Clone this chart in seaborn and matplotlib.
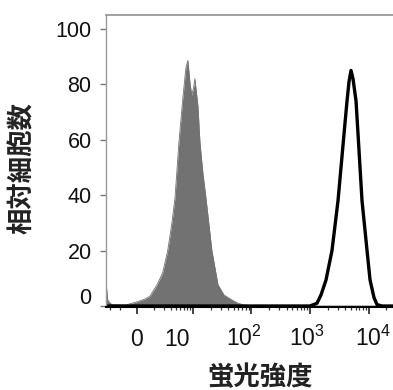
import numpy as np
import matplotlib
matplotlib.use('Agg')
import matplotlib.pyplot as plt
import matplotlib.transforms as mtransforms
import seaborn as sns

# 灰色: 陰性対照のヒストグラム
neg_x = [-5.5, -5.2, -4.5, -2.1, 0, 1.4, 2.3, 3.6, 4.6, 5.5, 6.25, 6.8, 7.5, 8.2,
         8.75, 9.1, 9.5, 9.8, 10.3, 10.8, 12.2, 13.2, 14.8, 16.7, 21.1, 26.8,
         33.9, 43, 58.8, 77.5, 115, 26200]
neg_y = [8, 2, 0.5, 0.3, 1.5, 2.5, 3.5, 7.7, 12, 20, 30, 39, 59, 75,
         86, 88.6, 80, 76, 79, 82, 72, 59, 48, 39, 20, 7.7,
         4, 2.6, 1, 0.3, 0, 0]

# 黒線: 染色サンプルのヒストグラム
pos_x = [-5.5, 1000, 1318, 1543, 1879, 2377, 3013, 3811, 4295, 4645, 5026,
         5433, 6118, 6622, 7745, 9436, 10620, 12420, 13990, 17020, 26200]
pos_y = [0, 0, 1, 4, 9.4, 20, 38, 62, 74, 81, 85,
         82, 74, 62, 38, 20, 9.4, 3, 0.5, 0, 0]

xtick_vals = [0, 10, 100, 1000, 10000]
xtick_labels = ['0', '10', '$10^2$', '$10^3$', '$10^4$']
ytick_vals = [0, 20, 40, 60, 80, 100]

sns.set_style('ticks')
plt.rcParams['font.family'] = ['Liberation Sans', 'Noto Sans CJK JP', 'DejaVu Sans']
plt.rcParams['mathtext.fontset'] = 'custom'
plt.rcParams['mathtext.rm'] = 'Liberation Sans'
plt.rcParams['mathtext.it'] = 'Liberation Sans'

fig = plt.figure(figsize=(3.93, 3.90), dpi=100)
ax = fig.add_axes([0.27, 0.2118, 0.73, 0.7497])

ax.set_xscale('symlog', linthresh=10, linscale=0.861, base=10)

ax.fill_between(neg_x, neg_y, 0, color='#727272', lw=0)
sns.lineplot(x=neg_x, y=neg_y, color='#727272', lw=0.6, estimator=None, ax=ax)
sns.lineplot(x=pos_x, y=pos_y, color='black', lw=2.4, estimator=None, ax=ax)

ax.set_xlim(-5.5, 26200)
ax.set_ylim(-0.5, 105)

# 目盛り
minor = []
for k in range(2, 10):
    minor.append(10 * np.log10(k))
    for d in [1, 2, 3, 4]:
        minor.append(k * 10 ** d)
minor += [-3.0, -4.8]
minor = [m for m in minor if -5.5 < m < 26200]
ax.set_xticks(xtick_vals)
ax.set_xticklabels([''] * len(xtick_vals))
ax.set_xticks(minor, minor=True)
ax.tick_params(axis='x', which='major', length=5, width=1.2, color='#222222')
ax.tick_params(axis='x', which='minor', length=2.5, width=0.9, color='#333333')

ax.set_yticks(ytick_vals)
ax.set_yticklabels([str(v) for v in ytick_vals])
ax.tick_params(axis='y', length=4.5, width=1, color='#777777', pad=6,
               labelsize=15.5, labelcolor='#111111')
ax.yaxis.set_minor_locator(matplotlib.ticker.NullLocator())

lab0 = ax.yaxis.get_major_ticks()[0].label1
lab0.set_transform(lab0.get_transform() +
                   mtransforms.ScaledTranslation(0, 10 / 100, fig.dpi_scale_trans))

# x軸ラベル (元図に合わせて少しずらす)
label_dx = [0, -16, -8, -3, 5]
blend = mtransforms.blended_transform_factory(ax.transData, ax.transAxes)
for v, t, dx in zip(xtick_vals, xtick_labels, label_dx):
    tr = blend + mtransforms.ScaledTranslation(dx / 100, 0, fig.dpi_scale_trans)
    ax.text(v, -0.133, t, transform=tr, ha='center', va='baseline',
            fontsize=16.5, color='#111111', clip_on=False)

ax.spines['right'].set_visible(False)
ax.spines['left'].set_color('#999999')
ax.spines['left'].set_linewidth(1.0)
ax.spines['top'].set_color('#999999')
ax.spines['top'].set_linewidth(1.3)
ax.spines['bottom'].set_color('black')
ax.spines['bottom'].set_linewidth(1.5)

ax.set_ylabel('相対細胞数', fontsize=19, fontweight='bold',
              family=['Noto Sans CJK JP', 'DejaVu Sans'], color='#222222')
ax.yaxis.set_label_coords(-0.245, 0.477)
ax.set_xlabel('蛍光強度', fontsize=19, fontweight='bold',
              family=['Noto Sans CJK JP', 'DejaVu Sans'], color='#222222')
ax.xaxis.set_label_coords(0.537, -0.195)

fig.savefig('out.png', dpi=100)
